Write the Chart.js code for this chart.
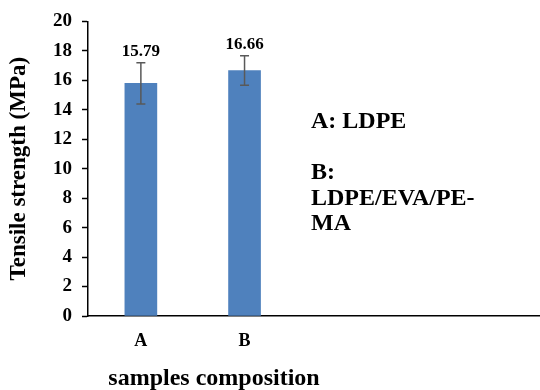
<!DOCTYPE html>
<html>
<head>
<meta charset="utf-8">
<script src="https://cdn.jsdelivr.net/npm/chart.js@4.4.1/dist/chart.umd.min.js"></script>
<style>
  html, body { margin: 0; padding: 0; background: #fff; }
  #wrap { width: 540px; height: 390px; position: relative; }
</style>
</head>
<body>
<div id="wrap"><canvas id="tensileChart"></canvas></div>
<script>
// Tensile strength per sample (MPa) and its standard deviation
const categories = ["A", "B"];
const tensile = [15.79, 16.66];
const tensileErr = [1.4, 1.0];
const yTicks = [0, 2, 4, 6, 8, 10, 12, 14, 16, 18, 20];
const noteLines = ["A: LDPE", "", "B:", "LDPE/EVA/PE-", "MA"];
const xTitle = "samples composition";

const serif = "'Liberation Serif', 'Times New Roman', serif";

// Error bars, value labels, sample key and x-axis title
const extrasPlugin = {
  id: "extras",
  afterDatasetsDraw(chart) {
    const ctx = chart.ctx;
    const xs = chart.scales.x;
    const ys = chart.scales.y;
    ctx.save();
    tensile.forEach((v, i) => {
      const x = xs.getPixelForValue(i);
      const yTop = ys.getPixelForValue(v + tensileErr[i]);
      const yBot = ys.getPixelForValue(v - tensileErr[i]);
      ctx.strokeStyle = "#595959";
      ctx.lineWidth = 1.5;
      ctx.beginPath();
      ctx.moveTo(x, yTop);
      ctx.lineTo(x, yBot);
      ctx.moveTo(x - 4.5, yTop);
      ctx.lineTo(x + 4.5, yTop);
      ctx.moveTo(x - 4.5, yBot);
      ctx.lineTo(x + 4.5, yBot);
      ctx.stroke();

      ctx.fillStyle = "#000";
      ctx.font = "bold 17px " + serif;
      ctx.textAlign = "center";
      ctx.textBaseline = "alphabetic";
      ctx.fillText(v.toFixed(2), x, yTop - 7);
    });

    ctx.font = "bold 24px " + serif;
    ctx.textAlign = "left";
    noteLines.forEach((line, k) => {
      if (line) ctx.fillText(line, 311, 128 + k * 25.5);
    });

    ctx.font = "bold 24px " + serif;
    ctx.textAlign = "center";
    ctx.textBaseline = "middle";
    ctx.fillText(xTitle, 214, 379);
    ctx.restore();
  }
};

new Chart(document.getElementById("tensileChart"), {
  type: "bar",
  data: {
    datasets: [
      {
        data: categories.map((c, i) => ({ x: i, y: tensile[i] })),
        backgroundColor: "#4F81BD",
        barThickness: 32,
      },
    ],
  },
  options: {
    responsive: true,
    maintainAspectRatio: false,
    animation: false,
    layout: { padding: { top: 20, left: 0, right: 0, bottom: 0 } },
    plugins: {
      legend: { display: false },
      tooltip: { enabled: false },
    },
    scales: {
      x: {
        type: "linear",
        min: -0.51,
        max: 3.85,
        offset: false,
        bounds: "data",
        afterBuildTicks: (scale) => {
          scale.ticks = categories.map((c, i) => ({ value: i }));
        },
        afterFit: (scale) => {
          scale.height = 74;
        },
        grid: { display: false, offset: false },
        border: { color: "#000", width: 1.5 },
        ticks: {
          callback: (v) => categories[v],
          color: "#000",
          font: { family: serif, size: 18, weight: "bold" },
          padding: 7,
          maxRotation: 0,
        },
      },
      y: {
        min: 0,
        max: 20,
        afterBuildTicks: (scale) => {
          scale.ticks = yTicks.map((v) => ({ value: v }));
        },
        afterFit: (scale) => {
          scale.width = 88;
        },
        grid: {
          drawOnChartArea: false,
          drawTicks: true,
          tickLength: 6,
          tickWidth: 1.5,
          tickColor: "#000",
        },
        border: { color: "#000", width: 1.5 },
        ticks: {
          color: "#000",
          font: { family: serif, size: 19, weight: "bold" },
          padding: 10,
        },
        title: {
          display: true,
          text: "Tensile strength (MPa)",
          color: "#000",
          font: { family: serif, size: 23, weight: "bold" },
          padding: { top: 5, bottom: 0 },
        },
      },
    },
  },
  plugins: [extrasPlugin],
});
</script>
</body>
</html>
